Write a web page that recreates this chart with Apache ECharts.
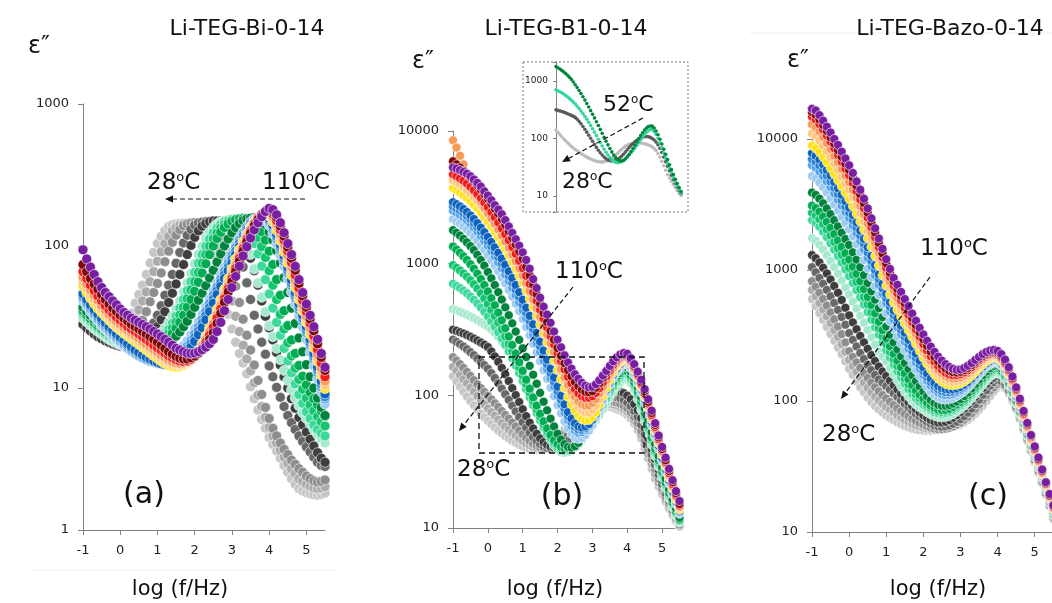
<!DOCTYPE html>
<html><head><meta charset="utf-8">
<script src="https://cdn.jsdelivr.net/npm/echarts@6/dist/echarts.min.js"></script>
<style>html,body{margin:0;padding:0;background:#fff}#c{width:1052px;height:603px}</style>
</head><body><div id="c"></div>
<script>
// log10 of frequency (Hz), shared by all curves
const logF = [-1,-0.9,-0.8,-0.7,-0.6,-0.5,-0.4,-0.3,-0.2,-0.1,
0,0.1,0.2,0.3,0.4,0.5,0.6,0.7,0.8,0.9,
1,1.1,1.2,1.3,1.4,1.5,1.6,1.7,1.8,1.9,
2,2.1,2.2,2.3,2.4,2.5,2.6,2.7,2.8,2.9,
3,3.1,3.2,3.3,3.4,3.5,3.6,3.7,3.8,3.9,
4,4.1,4.2,4.3,4.4,4.5,4.6,4.7,4.8,4.9,
5,5.1,5.2,5.3,5.4,5.5];

const xTicks = [-1,0,1,2,3,4,5];

// ---------- panel (a) Li-TEG-Bi-0-14 : lowest T (a00) ... highest T (a16)
const a00 = [29,27.5,26,24.8,23.8,23,22.4,22,22,22.3,
23.5,25.5,29,33.5,39.5,45.5,53,63,76,90,
104,117,128,137,141,143,144,144,144,143,
141,137,129,118,104,88,71,55,43,33,
26,21,17.5,15,12.6,10.2,8.4,7,6,5.2,
4.5,4,3.6,3.2,2.85,2.55,2.3,2.1,1.95,1.88,
1.83,1.8,1.77,1.76,1.78,1.82];
const a00b = [29,27.5,26,24.8,23.8,23,22.4,22,21.8,21.9,
22.3,23.2,24.8,27.3,31,35.5,41,47.5,56,66,
78,91,104,117,128,135,140,143,144,144.5,
145,144,141,136,127,115,100,84,67,52,
41,32,25,20,16,13.2,10.9,8.9,7.4,6.2,
5.3,4.6,4.1,3.65,3.25,2.95,2.7,2.5,2.3,2.2,
2.1,2.03,1.98,1.96,1.98,2.02];
const a01 = [29,27.5,26,24.8,23.8,23,22.4,22,21.7,21.5,
21.5,21.7,22.2,23,24.5,26.5,30,34.5,40.5,47,
54.5,64.5,77.5,92,106,119,130,139,143,145,
146,146,146,145,143,139,130,117,102,85,
68,52,40,30.5,23.5,18.5,14.5,11.3,9,7.3,
6.1,5.2,4.6,4.1,3.7,3.4,3.1,2.9,2.7,2.55,
2.4,2.3,2.22,2.18,2.2,2.25];
const a02 = [28,26.6,25.3,24.2,23.3,22.5,21.9,21.4,21,20.7,
20.5,20.4,20.4,20.6,21,21.6,22.6,24,26,28.7,
32.5,38,45,53,63,75.5,90,105,119,131,
140,145,147,148,148,148,147,145,141,134,
123,108,91,71,55,42,32.5,26,21,17.3,
14.3,12,10.1,8.6,7.4,6.4,5.7,5.1,4.6,4.2,
3.85,3.55,3.25,3,2.85,2.8];
const a03 = [28,26.5,25.2,24,23,22.2,21.5,20.9,20.4,20,
19.7,19.5,19.4,19.4,19.6,20,20.6,21.5,22.8,24.6,
27,30.3,34.5,40,46.5,54,63,74,87,101,
115,128,138,144,148,150,150,150,148,146,
142,135,125,112,97,82,67,53,41,32,
26.5,21.8,17.8,14.5,12,10,8.4,7.2,6.2,5.5,
4.9,4.35,3.9,3.5,3.2,3];
const a04 = [31,29.2,27.6,26.2,25,23.9,22.9,22,21.3,20.7,
20.2,19.8,19.5,19.3,19.3,19.5,19.9,20.5,21.4,22.2,
23.3,24.6,26.4,28.8,32,36,41,47.5,55,64,
75,87,100,113,125,135,143,148,151,152,
151,146,136,122,105,87,69,55,43.5,34.5,
27.5,23,19,15.8,13.3,11.3,9.7,8.5,7.5,6.7,
6.1,5.6,5.1,4.7,4.4,4.1];
const a05 = [33,31,29.2,27.6,26.2,25,23.9,22.9,22,21.3,
20.6,20,19.5,19.1,18.8,18.7,18.8,19.1,19.6,20.4,
21.2,22.3,23.8,25.8,28.5,32,36.5,42,48.5,56,
65,75.5,87,99.5,112,124,134,142,148,152,
154,153,149,142,132,119,104,88,72,58,
46,36.5,29,23.5,19,15.5,12.8,10.7,9,7.8,
6.8,6.1,5.5,5.1,4.8,4.6];
const a05b = [34,31.9,30,28.3,26.8,25.5,24.4,23.3,22.4,21.6,
20.8,20.2,19.6,19.2,18.8,18.6,18.6,18.7,19.1,19.7,
20.5,21.4,22.6,24.1,26.2,29,32.6,37,42.5,49,
56,65,75.5,87,99.5,112,124,134,142,148,
152,154,154,152,147,140,129,115,99,83,
67,53,42,33,26,20.8,16.8,13.8,11.5,9.8,
8.5,7.6,6.9,6.3,5.8,5.4];
const a06 = [35,32.8,30.8,29,27.5,26.1,24.9,23.8,22.8,21.9,
21.1,20.4,19.8,19.3,18.9,18.6,18.4,18.4,18.6,19,
19.8,20.5,21.4,22.6,24.2,26.3,29,32.5,37,42,
48,55.5,64.5,75,87,100,113,125,135,143,
149,153,155,156,156,154,148,139,126,110,
92,74,58,45,35,27.5,21.8,17.5,14.4,12.1,
10.5,9.3,8.4,7.6,6.9,6.3];
const a07 = [37,34.6,32.4,30.5,28.8,27.3,26,24.8,23.7,22.7,
21.8,21,20.3,19.7,19.2,18.8,18.5,18.3,18.2,18.3,
18.6,19.1,19.8,20.7,21.8,23.2,24.8,27,29.5,33,
37,41.5,46.5,52.5,59.5,67.5,77,88,100,112,
124,135,144,151,155,157,158,156,151,142,
126,110,93,76,60,47,36.5,28.5,22.5,18,
14.6,12,10,8.5,7.3,6.4];
const a08 = [41,37.5,34.5,31.9,29.6,27.6,25.9,24.4,23,21.8,
20.7,19.7,18.8,18,17.3,16.7,16.2,15.8,15.5,15.3,
15.2,15.3,15.5,15.9,16.5,17.3,18.4,19.8,21.5,23.6,
26.2,29.3,33,37.4,42.5,48.3,55,62.5,71,80.5,
91,102,114,126,137,147,154,158,156,150,
140,122,103,86,71.5,58.5,47.5,39,32.2,26.7,
22,17.8,14.3,11.6,9.4,7.7];
const a09 = [43,39.3,36,33.2,30.8,28.7,26.9,25.3,23.9,22.6,
21.4,20.3,19.3,18.4,17.6,16.9,16.3,15.8,15.4,15.1,
14.9,14.8,14.9,15.1,15.5,16.1,17,18.2,19.7,21.6,
24,26.9,30.4,34.6,39.5,45.2,51.5,58.5,66.5,75.5,
86,97.5,110,123,136,148,154,159,161,157,
148,131,112,94,78,64.5,52.5,43,35.5,29.5,
24.5,20,16,12.8,10.2,8.4];
const a09b = [44.5,40.6,37.2,34.3,31.9,29.7,27.8,26.1,24.7,23.3,
22.1,20.9,19.9,18.9,18.1,17.3,16.7,16.1,15.7,15.3,
15,14.8,14.7,14.8,15.1,15.6,16.4,17.4,18.8,20.5,
22.6,25.3,28.5,32.4,37,42.3,48.5,55.2,62.7,71.2,
81,92,104.5,117.5,130.5,143,152,158.5,162,160,
152,135.5,116.5,98,81.5,67.5,55,45,37.2,31,
25.7,21,16.7,13.4,10.7,8.7];
const a10 = [46,42,38.5,35.5,33,30.8,28.8,27,25.5,24.1,
22.8,21.6,20.5,19.5,18.6,17.8,17.1,16.5,16,15.5,
15.1,14.8,14.6,14.6,14.8,15.2,15.8,16.7,17.9,19.4,
21.3,23.7,26.6,30.2,34.5,39.5,45.5,52,59,67,
76,87,99,112,125,138,150,158,163,162,
156,140,121,102,85,70.5,57.5,47,39,32.5,
27,22,17.5,14,11.2,9.1];
const a11 = [52,47,43,39.5,36.5,34,32,30,28.3,26.8,
25.5,24.3,23.2,22.2,21.2,20.3,19.4,18.5,17.7,16.9,
16.2,15.5,14.9,14.4,14.1,14,14.1,14.4,14.9,15.7,
16.8,18.4,20.5,23.2,26.5,30.7,35.8,42,49.5,58.5,
69,81,94,108,122,136,149,158,165,167,
163,148,129,109,91,76,62.5,51,42,35,
29,23.8,19.2,15.4,12.3,9.9];
const a12 = [56,50.5,46,42,39,36,33.5,31.5,29.5,28,
26.7,25.5,24.4,23.4,22.4,21.4,20.4,19.5,18.6,17.8,
17,16.3,15.6,15.1,14.7,14.5,14.5,14.7,15.1,15.8,
16.8,18.2,20,22.4,25.4,29.2,34,39.8,47,55.5,
65.5,77,90,104,119,134,148,159,166,170,
168,155,136,116,97,81,66.5,54,44,36.5,
30.3,25,20.2,16.2,13,10.5];
const a13 = [60,54,49,45,41.5,38,35.5,33,31,29.5,
28,26.7,25.5,24.4,23.4,22.4,21.4,20.4,19.5,18.7,
17.9,17.1,16.4,15.8,15.3,15,14.9,15,15.3,15.9,
16.8,18.1,19.8,22,24.8,28.3,32.6,38,44.5,52.5,
62,73,86,100,115,131,146,159,167,173,
172,161,143,122,102.5,86,71,57.5,46.5,38.5,
32,26.5,21.5,17.2,13.8,11.2];
const a14 = [66,59,53,48.5,44.5,41,38,35.5,33.5,31.5,
30,28.5,27,26,25,24,23,22,21,20,
19.2,18.4,17.6,16.9,16.3,15.8,15.5,15.4,15.5,15.9,
16.6,17.6,19,21,23.5,26.8,31,36,42.5,50,
59,69.5,82,96,111,127,143,157,166,174,
176,168,151,130,110,92,76.5,62.5,50.5,41.5,
34.5,28.5,23.3,18.7,15,12];
const a15 = [74,66,59,54,49.5,45.5,42,39,36.5,34.5,
32.5,31,29.5,28,27,26,25,24,23,22,
21,20,19,18,17.3,16.7,16.2,16,16,16.3,
16.8,17.6,18.6,20,22,24.5,28.5,33.5,40,47.5,
56,66,78,92,107,123,139,153,165,175,
179,174,159,138,117,98,82,67.5,54.5,44.5,
37,30.5,25.3,20.5,16.5,13.3];
const a16 = [94,81,71,63,56,51,47,44,41,38.5,
36,34,32.5,31,30,29,28,27,26,25,
24,23,22,21,20,19,18.5,18,17.6,17.5,
17.6,18,18.6,19.4,20.5,22,25,29,35,42,
51,61,72,85,99,114,130,146,161,175,
184,180,166,146,124,104,87,72,58,47,
39,32.5,27,22,17.5,14];

// ---------- panel (b) Li-TEG-B1-0-14
const b00 = [140,128,117,107,98.5,91,84.5,78.5,73,68.5,
64.5,61,57.5,54.5,52,49.5,47.5,45.5,44,42.5,
41.3,40.3,39.6,39.2,39.2,39.6,40.4,41.6,43.2,45.3,
48,51.5,55.5,60,64.5,69,73,76.5,79,81,
82.5,83.5,84,84,83.5,82.5,81,79,77,74.5,
71.5,67,61.5,55,47.5,40,33.5,28,23.5,20.5,
18,15.8,14,12.5,11.2,10.2];
const b00b = [165,154,143,133,124,115,107,99.5,92.5,86,
80,75,70.5,66,62,58.5,55.5,52.5,50,47.5,
45.5,43.7,42.2,41,40.1,39.7,39.7,40.2,41.4,43.2,
45.8,49.4,53,57.2,61.6,66,70.5,74.5,77.8,80.5,
83,84.5,85.8,86.5,86.8,86.5,85.5,83.8,81.8,79,
75.7,71,65.2,58.5,50.7,43,36.2,30.5,25.6,22,
19,16.5,14.6,12.9,11.5,10.3];
const b01 = [195,184,173,162,151,141,131,122,114,106.5,
100,93.5,87.5,82,76.5,71.5,67,62.5,58.5,54.5,
51,48,45.5,43.4,41.8,40.7,40.1,40.2,41,42.6,
44.7,47.4,50.6,54.4,58.7,63.3,68,72.5,76.5,80,
83,85.5,87.5,89,90,90.5,90,88.5,86.5,83.5,
80,75,69,62,54,46,39,33,27.8,23.5,
20,17.3,15.2,13.4,11.8,10.5];
const b02 = [265,255,245,235,224,213,202,191,180,170,
160,148,136,124,113,102.5,93,84,76,69,
63,57.5,52.5,48.5,45.5,43,41.3,40.2,39.6,40,
41.7,43.8,46.6,50,54,58.5,63.5,68.5,73.5,78.5,
83,87,90.5,93.5,96,97.5,98,97.5,95.5,92.5,
88.5,83,76.5,69,60,51,43,36,30,25.3,
21.3,18.3,15.9,13.8,12.1,10.7];
const b03 = [315,309,302,295,287,279,270,261,252,243,
233,216,198,180,162,145,129,114,101,89.5,
79,70,62.5,56.5,51.5,47.5,44.5,42.5,41.2,40.5,
40.4,41.3,43,45.5,48.8,53,58,63.5,69.5,76,
82,88,93.5,98.5,102.5,105.5,107.5,108,107,104.5,
100,94,86.5,77.5,67.5,57,47.5,39.5,33,27.5,
23,19.5,16.7,14.4,12.5,11];
const b04 = [450,440,430,419,408,396,384,371,358,345,
332,316,298,279,258,237,215,193,172,152,
133,116,101,88,77,67.5,59,52,46.5,42.3,
39,37.5,37,37.5,38.5,40.5,43,46,50,54.5,
59.5,65,71.5,79,88,97.5,107,117,126,132,
133,124,110,94,78,64,52,42.5,35,29,
24,20,16.8,14.3,12.4,11];
const b05 = [700,675,650,622,593,562,530,497,463,430,
397,364,332,301,271,243,217,192,169,148,
129,112,97,84.5,74,65,57.5,51.5,46.5,42.5,
40,38.5,38,38.5,39.5,41.5,44,47.5,51.5,56.5,
62,68.5,76,85,95,106,117,128,137,143,
143,133,118,101,84,69,56,45.5,37,30.5,
25.3,21,17.6,15,12.9,11.3];
const b05b = [968,926,883,838,793,744,694,644,593,543,
493,445,400,357,317,280,246,216,187,163,
141,122,105,90.5,79,69,60.7,54,48.5,44.2,
41.5,39.7,39,39.2,40,41.7,44.2,47.7,52,57.2,
63.2,70.2,78.7,88.4,99,110.4,122,133.4,142.4,148.4,
148,137.5,122,104.5,87,71.5,58,47,38.2,31.5,
26,21.5,18,15.3,13.1,11.4];
const b06 = [1340,1270,1200,1130,1060,985,910,835,760,685,
612,545,482,424,371,323,280,242,208,179,
154,132,113,97,84,73,64,56.5,50.5,46,
43,41,40,40,40.5,42,44.5,48,52.5,58,
64.5,72,81.5,92,103,115,127,139,148,154,
153,142,126,108,90,74,60,48.5,39.5,32.5,
26.7,22,18.4,15.6,13.3,11.6];
const b07 = [1780,1700,1620,1530,1440,1350,1260,1160,1060,960,
860,770,685,605,532,465,405,352,305,264,
228,196,168,144,123,105,90,77.5,67,58.5,
51.5,46.5,43,41,40.5,41.5,44,48,53,59.5,
67,76,87,99,112,126,140,152,161,165,
164,152,135,116,97,80,65,53,43,35,
28.7,23.6,19.6,16.5,14,12];
const b08 = [2150,2070,1990,1900,1800,1700,1590,1480,1370,1260,
1155,1055,960,870,785,705,630,560,495,435,
380,330,286,247,212,182,156,134,115,99,
85,73.5,64,56.5,51,48,47,48,50.5,54.5,
60,68,78,90,104,120,136,151,164,172,
173,161,143,124,105,88,73,59.5,48.5,39.5,
32,26.3,21.7,18,15.1,12.8];
const b09 = [2500,2420,2330,2230,2120,2000,1870,1740,1610,1480,
1360,1240,1130,1020,920,825,735,652,575,505,
442,385,334,289,249,214,184,158,136,117,
100,86,74.5,65.5,59,54.5,52.5,53,55,58.5,
64,71,81,93,107,123,140,156,169,177,
178,166,148,128,109,91.5,76,62,50.5,41,
33,27,22.3,18.5,15.5,13.1];
const b09b = [2700,2610,2510,2400,2280,2150,2015,1875,1735,1600,
1470,1345,1225,1110,1002,900,802,713,630,555,
486,423,367,317,273,235,201,172,148,127,
108,93,80,70,63,58,55.5,55.2,56.7,59.7,
65,72,82,94.5,109,125.5,142.5,158.5,171.5,179.5,
180,168,150,130,110.5,93,77.2,63,51.2,41.5,
33.5,27.5,22.6,18.7,15.7,13.2];
const b10 = [2900,2800,2690,2570,2440,2300,2160,2010,1860,1720,
1580,1450,1320,1200,1085,975,870,775,685,605,
530,462,401,346,298,256,219,187,160,137,
117,100,86,75,67,61.5,58.5,57.5,58.5,61,
66,73,83,96,111,128,145,161,174,182,
182,170,152,132,112,94.5,78.5,64,52,42,
34,28,23,19,15.9,13.4];
const b11 = [3700,3570,3430,3280,3120,2950,2770,2590,2410,2230,
2060,1890,1730,1575,1425,1285,1150,1025,910,805,
710,620,540,467,402,345,295,252,215,183,
156,133,114,98,86,77,70.5,66.5,65,65.5,
69,75,85,98,114,131,149,166,179,187,
186,173,155,135,115,97,80.5,66,53.5,43.5,
35.5,29,23.8,19.7,16.3,13.7];
const b12 = [4250,4100,3940,3760,3570,3370,3160,2950,2740,2530,
2330,2140,1950,1770,1600,1440,1290,1150,1020,900,
790,690,600,518,445,382,327,280,240,206,
177,152,131,114,100,90,82,77,74.5,74.5,
78,84,94,107,122,139,156,172,185,192,
191,177,158,138,118,99,82,67.5,55,44.5,
36.5,30,24.5,20.2,16.8,14.1];
const b13 = [8500,7500,6500,5600,4800,4150,3650,3250,2930,2650,
2400,2190,1990,1800,1620,1460,1310,1170,1040,920,
810,710,620,535,460,395,338,290,249,214,
184,159,138,121,108,98,91,86,84,84.5,
88,94,104,116,131,147,163,178,189,195,
193,179,160,140,120,101,84,69,56,45.5,
37.5,30.5,25,20.6,17.1,14.4];
const b14 = [4700,4550,4380,4200,4000,3790,3570,3340,3110,2880,
2660,2440,2230,2030,1840,1660,1490,1330,1180,1045,
920,805,700,605,520,445,382,328,282,243,
210,182,158,139,124,112,104,99,96.5,96.5,
99,105,114,126,140,155,171,185,195,200,
197,183,164,143,123,104,87,71.5,58,47,
38.5,31.5,26,21.4,17.7,14.8];
const b15 = [5900,5600,5300,5000,4720,4450,4180,3900,3620,3340,
3080,2830,2590,2370,2160,1950,1750,1560,1390,1230,
1080,940,810,690,585,495,420,360,308,265,
229,200,176,156,140,127,118,111,107,106,
108,115,124,136,149,163,178,191,201,205,
202,187,168,147,127,108,90,74,60,48.5,
39.5,32.5,27,22.2,18.3,15.2];
const b16 = [5300,5200,5050,4900,4750,4550,4300,4050,3800,3500,
3250,3000,2750,2550,2350,2120,1900,1700,1520,1360,
1210,1060,910,760,650,550,470,410,355,305,
265,232,202,178,160,145,134,125,119,116,
117,122,131,142,154,168,182,195,205,210,
207,192,173,152,132,112,94,77,62,50,
41,34,28,23,19,16];

// ---------- panel (c) Li-TEG-Bazo-0-14
const c00 = [600,530,470,415,367,325,288,256,228,201,
176,158,141,127,116,106,98,91.5,86,81.5,
77.5,74.5,71.5,69,66.5,64.5,63,61.5,60.5,60,
59.5,59.3,59.3,59.5,60,60.8,61.8,62.8,63.8,64.8,
66,68.5,71.5,75.5,80,85.5,92,100,109,118,
126,130,125,114,100,86,72.5,60,49.5,41,
34,28.3,23.4,19.2,15.7,12.6];
const c00b = [705,630,560,500,443,393,348,308,272,238,
206,185,167,151,138,126,116,108,101,95,
90,86,82,78,74.5,71.6,69.2,67,65.3,63.9,
62.7,61.6,60.9,60.5,60.5,60.9,61.6,62.6,63.9,65.4,
67.2,70.2,73.7,78.2,83.5,89.7,97,105.5,114.5,122.5,
130,133,128,117,102.5,87.5,73.7,61,50.5,41.7,
34.5,28.7,23.7,19.4,15.8,12.7];
const c01 = [820,745,670,600,535,475,420,370,324,280,
240,217,197,179,163.5,150,138,127.5,118.5,111,
104.5,98.5,93,88,83.5,79.5,76,73,70.5,68,
66,64,62.5,61.5,61,61,61.5,62.5,64,66,
68.5,72,76,81,87,94,102,111,120,127,
134,136,131,120,105,89,75,62,51.5,42.5,
35,29.2,24,19.6,16,12.8];
const c02 = [1050,960,870,785,705,630,560,496,438,382,
330,293,261,233,209,189,172,158,146,137.5,
130,122,114.5,107.5,101,95,89.5,84.5,80,76,
72.5,69.5,67,65,64,63.5,64,65,67,69.5,
72.5,76.5,81.5,87.5,94.5,102.5,111.5,121,131,139,
144,142,134,121,106,90,75.5,62.5,51.5,42.5,
35.5,29.5,24.3,19.8,16.1,13];
const c03 = [1300,1230,1140,1040,940,845,755,670,590,515,
450,398,353,314,280,250,224,202,183,168,
155,143,132,122,113,105,98,92,86.5,82,
78,74.5,71.5,69.5,68.5,68.5,69.5,71.5,74.5,78,
82.5,87.5,93.5,100,107.5,116,125.5,135,144,151,
155,152,141,126,109,92,77,63.5,52.5,43.5,
36,29.8,24.6,20,16.3,13.2];
const c04 = [1750,1670,1560,1430,1300,1170,1050,935,830,735,
650,575,508,448,395,348,306,270,239,218,
200,178,159,143,129,117.5,108,100,94,89.5,
86,82,79,77,75.5,75,75.5,77,79.5,83,
87,92,98,105,113,122.5,133,144,154,161,
163,158,146,130,112,94.5,78.5,65,53.5,44,
37,30.6,25.2,20.5,16.6,13.4];
const c05 = [2400,2290,2140,1960,1780,1600,1430,1280,1140,1010,
900,795,703,620,545,478,418,365,320,280,
245,215,190,169,151,136,123,113,105,98.5,
94,89,85,82,80.5,80,80.5,82,84.5,88,
92.5,97.5,104,111.5,120,130,141,152,162,168,
170,164,151,134,115,97,80.5,66.5,54.5,45,
37.5,31,25.5,20.8,16.8,13.6];
const c05b = [2730,2610,2440,2240,2035,1833,1640,1466,1308,1163,
1040,918,811,713,624,545,475,413,359,312,
271,237,209,185,165,148.5,134,122,112,104.5,
99,93,88.5,85.2,83.2,82.5,83,84.5,87.2,91,
95.5,100.7,107.5,115.2,124.2,134.5,145.5,156.5,166.5,172.5,
174,167.5,154,136.5,117,98.5,81.7,67.2,55.2,45.5,
37.7,31.2,25.6,20.9,16.9,13.7];
const c06 = [3100,2970,2780,2560,2330,2100,1880,1680,1500,1340,
1200,1060,935,820,715,622,540,467,403,347,
300,261,229,203,181,162,146,132,120,111,
104,97,92,88.5,86,85,85.5,87,90,94,
98.5,104,111,119,128.5,139,150,161,171,177,
178,171,157,139,119,100,83,68,56,46,
38,31.4,25.8,21,17,13.8];
const c07 = [3900,3740,3500,3230,2950,2670,2400,2150,1925,1725,
1550,1365,1200,1050,915,795,688,594,512,437,
370,320,280,247,219,195,175,157,142,129,
118,108.5,101.5,96.5,93.5,92,92,93,95.5,99,
103.5,109,116,124.5,134.5,145.5,157,168,178,185,
186,178,163,144,123,103,85,69.5,57,47,
38.5,31.8,26.1,21.2,17.2,14];
const c08 = [5200,4980,4650,4280,3900,3530,3170,2840,2540,2280,
2050,1800,1575,1370,1190,1025,880,755,645,550,
470,406,353,310,274,243,216,192,172,155,
140,127,117,110,105.5,103,102.5,103.5,105.5,109,
113.5,119,126.5,135.5,146,158,170,182,190,196,
195,185,168,148,126,106,87,71,58.5,48,
39,32.2,26.4,21.5,17.5,14.2];
const c09 = [6300,6050,5650,5200,4750,4300,3850,3450,3100,2780,
2500,2190,1915,1665,1440,1240,1065,910,775,660,
560,482,418,366,322,284,251,222,197,176,
158,143,131,122,116,112.5,111,111.5,113,116,
120,125.5,133,142,153,165,177,189,197,202,
201,190,172,151,129,108,88.5,72,59,48.5,
39.5,32.6,26.7,21.7,17.6,14.4];
const c09b = [7010,6710,6270,5770,5250,4750,4250,3800,3410,3050,
2740,2400,2100,1825,1580,1360,1168,996,847,720,
608,522,452,396,348,307,271,240,213,189,
169,152,139,129.3,122.8,118.8,116.8,116.6,117.7,120.2,
124,129.2,136.5,145.5,156.5,168.5,180.5,192,200,205,
203.5,192.5,174.5,153,130.5,109,89.5,72.7,59.5,48.7,
39.7,32.8,26.8,21.8,17.7,14.5];
const c10 = [7800,7450,6950,6400,5800,5250,4700,4200,3750,3350,
3000,2630,2300,2000,1730,1490,1280,1090,925,785,
660,566,490,428,376,332,293,259,230,203,
180,162,148,137,130,125.5,123,122,122.5,124.5,
128,133,140,149,160,172,184,195,203,208,
206,195,177,155,132,110,90.5,73.5,60,49,
40,33,27,21.9,17.8,14.6];
const c11 = [8900,8500,7950,7300,6650,6000,5400,4850,4350,3900,
3500,3070,2690,2340,2030,1750,1500,1280,1080,910,
760,652,566,497,440,390,346,307,272,241,
214,192,174,159.5,148.5,140.5,135,132.5,132,133,
136,140.5,147,155.5,166,178,190,201,209,214,
211,199,181,158,135,113,92.5,75,61,49.5,
40.5,33.3,27.3,22.1,18,14.8];
const c12 = [11000,10500,9750,8900,8050,7250,6500,5800,5150,4600,
4100,3590,3130,2710,2340,2000,1710,1450,1220,1025,
860,735,637,559,494,437,387,342,301,265,
232,208,188,172,160,151,144.5,141,140,141,
143.5,148,155,164,175,187,199,209,216,220,
216,204,185,162,138,115,94.5,76.5,62,50.5,
41,33.8,27.7,22.4,18.2,15];
const c13 = [12900,12300,11400,10350,9300,8350,7450,6650,5900,5250,
4700,4100,3560,3080,2650,2260,1920,1620,1360,1140,
950,810,700,612,540,477,421,371,326,286,
250,224,202,185,172,162,154,149.5,148,148.5,
151,156,163,172,183,195,207,217,223,226,
222,209,190,166,142,118,96.5,78,63.5,51.5,
42,34.5,28.2,22.8,18.5,15.2];
const c14 = [14800,14100,13000,11800,10600,9500,8500,7550,6700,5950,
5300,4620,4000,3450,2960,2510,2120,1780,1490,1245,
1040,885,760,665,585,515,455,400,351,309,
272,243,219,200,185,173,164,159,157,157.5,
160,165,172,181,192,204,215,224,230,232,
228,215,195,171,146,121,99,80,65,53,
43,35.3,28.8,23.2,18.8,15.4];
const c15 = [16000,15300,14100,12800,11500,10300,9200,8200,7300,6500,
5800,5050,4370,3770,3230,2730,2300,1930,1610,1340,
1120,950,815,715,630,555,490,430,378,333,
295,264,238,217,200,187,177,170,166,165,
167,172,179,188,199,210,221,230,236,238,
234,221,201,176,150,124,101.5,82,66.5,54,
44,36,29.3,23.5,19,15.7];
const c16 = [17000,16500,15200,13800,12400,11200,10000,9000,8000,7100,
6300,5500,4750,4100,3500,2950,2480,2080,1740,1450,
1210,1020,870,770,680,600,530,465,410,362,
322,288,260,237,218,203,191,182,176,173,
174,179,186,195,206,217,228,237,243,245,
241,228,207,181,154,127,104,84,68,55,
45,37,30,24,19.5,16];

const colors = ['#C6C6C6','#ABABAB','#8E8E8E','#686868','#3E3E3E',
  '#A6E9CD','#3DD89C','#14C56F','#00AD52','#00843D',
  '#9FCBF1','#4EA2E8','#2A82D8','#0F63BD',
  '#FFE31A','#FFC67B','#F59B55','#F21B1B','#7E0606','#7A1EA1'];

const panelA = [a00,a00b,a01,a02,a03,a04,a05,a05b,a06,a07,a08,a09,a09b,a10,a11,a12,a13,a14,a15,a16];
const panelB = [b00,b00b,b01,b02,b03,b04,b05,b05b,b06,b07,b08,b09,b09b,b10,b11,b12,b13,b14,b15,b16];
const panelC = [c00,c00b,c01,c02,c03,c04,c05,c05b,c06,c07,c08,c09,c09b,c10,c11,c12,c13,c14,c15,c16];
const insetSet = [b00,b03,b05,b07];
const insetColors = ['#BDBDBD','#5A5A5A','#35D69A','#00873F'];

const F = "'DejaVu Sans', Verdana, sans-serif";
const AX = '#808080';

function logFmt(v){ const l = Math.log10(v), r = Math.round(l); return Math.abs(l-r) < 1e-6 ? String(Math.round(Math.pow(10,r))) : ''; }

function xAx(gi, max){
  return {gridIndex: gi, type:'value', min:-1, max:max, interval:1,
    axisLine:{show:true, onZero:false, lineStyle:{color:AX, width:1}},
    axisTick:{show:true, length:5, lineStyle:{color:AX}, customValues: xTicks},
    axisLabel:{margin:14, fontSize:13, color:'#222', fontFamily:F,
      formatter: v => Number.isInteger(v) ? String(v) : ''},
    splitLine:{show:false}};
}
function yAx(gi, min, max, opt){
  opt = opt || {};
  return {gridIndex: gi, type:'log', logBase:10, min:min, max:max,
    axisLine:{show:true, onZero:false, lineStyle:{color:AX, width:1}},
    axisTick:{show:true, length: opt.tick || 5, lineStyle:{color:AX}},
    axisLabel:{margin: opt.margin || 14, fontSize: opt.fs || 13, color:'#222', fontFamily:F, formatter: logFmt},
    minorTick:{show:false}, splitLine:{show:false}};
}

const series = [];
function addPanel(list, cols, gi, size, border){
  list.forEach((arr, k) => {
    series.push({type:'scatter', xAxisIndex:gi, yAxisIndex:gi, symbol:'circle', symbolSize:size,
      clip:false, silent:true,
      itemStyle:{color:cols[k], borderColor:'#ffffff', borderWidth:border, opacity:1},
      data: logF.map((x,i) => [x, arr[i]])});
  });
}
addPanel(panelA, colors, 0, 10, 0.6);
addPanel(panelB, colors, 1, 9, 0.6);
addPanel(panelC, colors, 2, 9, 0.6);
addPanel(insetSet, insetColors, 3, 3.6, 0);

function txt(x, y, s, size, align){
  align = align || 'center';
  return {type:'text', x:x, y:y, z:100, style:{text:s, fill:'#111', font: size+'px '+F,
    align:align, verticalAlign:'middle', textAlign:align, textVerticalAlign:'middle'}};
}
function tlab(x, y, num, size){
  return {type:'text', x:x, y:y, z:100, style:{text:'{n|'+num+'}{s|o}{n|C}', align:'left', verticalAlign:'middle',
    textAlign:'left', textVerticalAlign:'middle',
    rich:{n:{fontSize:size, fontFamily:F, fill:'#111'}, s:{fontSize:Math.round(size*0.56), fontFamily:F, fill:'#111', verticalAlign:'top'}}}};
}
function arrow(x1,y1,x2,y2){
  const dx=x2-x1, dy=y2-y1, L=Math.hypot(dx,dy), ux=dx/L, uy=dy/L, h=8, w=3.5;
  const bx=x2-ux*h, by=y2-uy*h;
  return [
    {type:'line', z:100, shape:{x1:x1,y1:y1,x2:bx,y2:by}, style:{stroke:'#111', lineWidth:1.2, lineDash:[5,3]}},
    {type:'polygon', z:100, shape:{points:[[x2,y2],[bx-uy*w,by+ux*w],[bx+uy*w,by-ux*w]]}, style:{fill:'#111'}}
  ];
}

const graphics = [
  {type:'rect', z:0, shape:{x:523,y:62,width:165,height:150}, style:{fill:'#fff', stroke:'#777', lineWidth:1, lineDash:[2,2]}},
  {type:'line', z:0, shape:{x1:30,y1:570,x2:337,y2:570}, style:{stroke:'#efefef', lineWidth:1}},
  {type:'line', z:0, shape:{x1:750,y1:33,x2:1052,y2:33}, style:{stroke:'#efefef', lineWidth:1}},
  txt(247, 29, 'Li-TEG-Bi-0-14', 22),
  txt(566, 29, 'Li-TEG-B1-0-14', 22),
  txt(950, 29, 'Li-TEG-Bazo-0-14', 22),
  txt(39, 47, 'ε″', 24),
  txt(423, 62, 'ε″', 24),
  txt(798, 61, 'ε″', 24),
  txt(180, 590, 'log (f/Hz)', 21),
  txt(555, 590, 'log (f/Hz)', 21),
  txt(938, 590, 'log (f/Hz)', 21),
  txt(144, 495, '(a)', 30),
  txt(562, 497, '(b)', 30),
  txt(988, 497, '(c)', 30),
  tlab(147, 183, '28', 23),
  tlab(262, 183, '110', 23),
  tlab(555, 272, '110', 23),
  tlab(457, 470, '28', 23),
  tlab(603, 105, '52', 22),
  tlab(562, 182, '28', 22),
  tlab(920, 249, '110', 23),
  tlab(822, 435, '28', 23),
  {type:'rect', z:100, shape:{x:479,y:357,width:165,height:96}, style:{fill:'none', stroke:'#111', lineWidth:1.3, lineDash:[6,4]}}
].concat(arrow(305,199,165,199), arrow(573,287,459,431), arrow(643,118,562,162), arrow(930,277,841,399));

const option = {
  animation:false,
  backgroundColor:'#fff',
  grid:[
    {left:83, top:104, width:242, height:426, containLabel:false, outerBoundsMode:'none'},
    {left:453, top:131, width:230, height:397, containLabel:false, outerBoundsMode:'none'},
    {left:812, top:107, width:245, height:425, containLabel:false, outerBoundsMode:'none'},
    {left:556, top:62, width:127, height:150, containLabel:false, outerBoundsMode:'none'}
  ],
  xAxis:[ xAx(0,5.5), xAx(1,5.6), xAx(2,5.6), Object.assign(xAx(3,5.6),{show:false}) ],
  yAxis:[ yAx(0,1,1000), yAx(1,10,10000), yAx(2,10,17550), yAx(3,5.27,2140,{tick:3, margin:8, fs:9}) ],
  series: series,
  graphic: {elements: graphics}
};

const chart = echarts.init(document.getElementById('c'), null, {renderer:'canvas', width:1052, height:603});
chart.setOption(option);

const bad = [];
[['a',panelA],['b',panelB],['c',panelC]].forEach(([p,l]) => l.forEach((arr,k) => { if (arr.length !== logF.length) bad.push(p+k+':'+arr.length); }));
if (bad.length) throw new Error('length mismatch ' + bad.join(','));
</script>
</body></html>
